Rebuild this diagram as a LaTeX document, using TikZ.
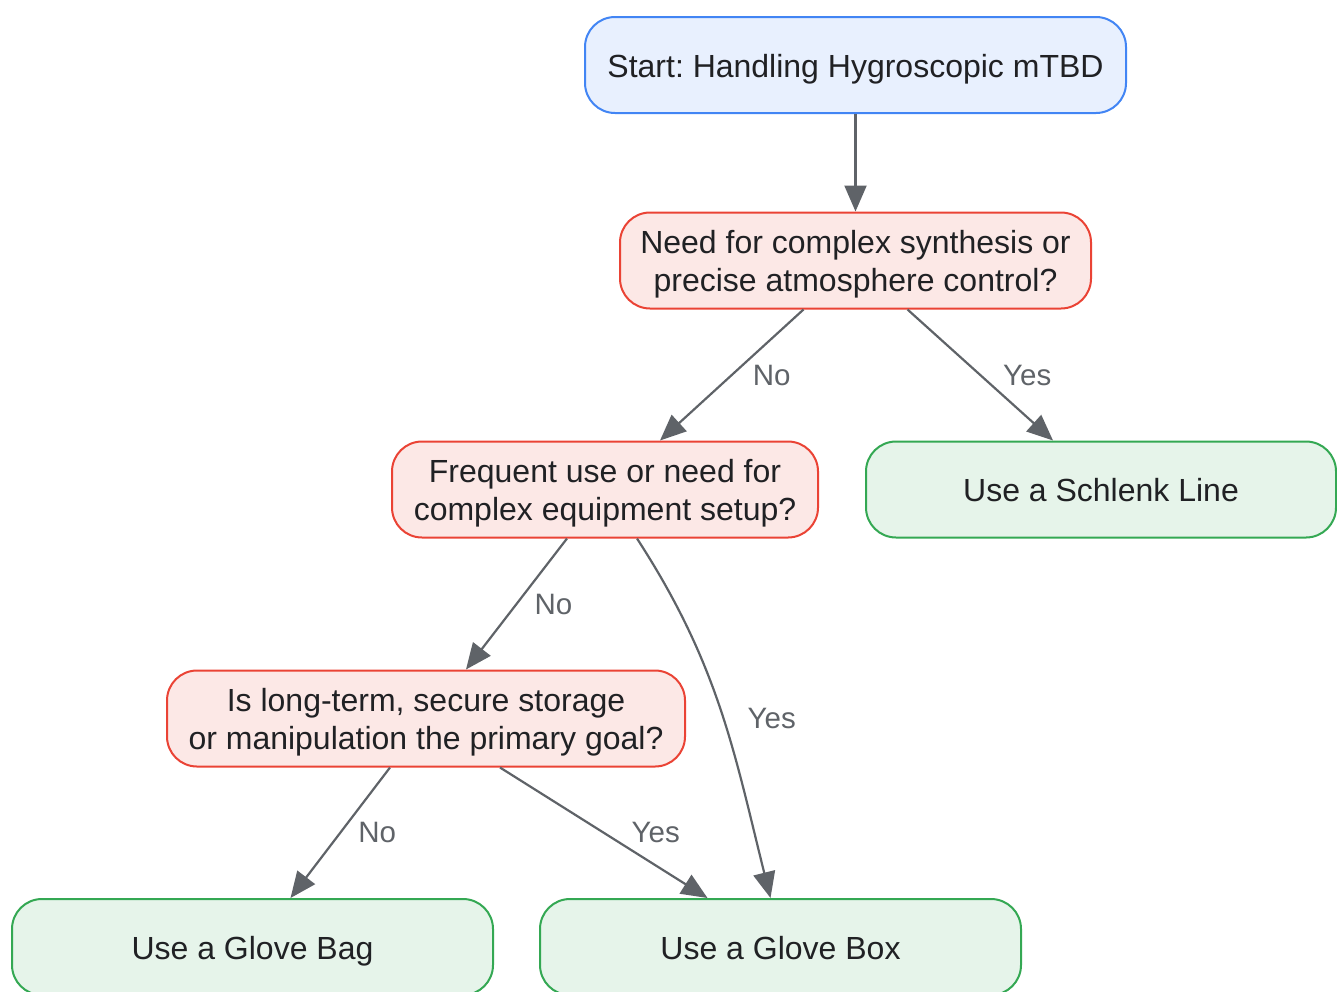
\documentclass[tikz,border=0pt]{standalone}
\usepackage{fontspec}
\setmainfont{Liberation Sans}
\frenchspacing
\usetikzlibrary{arrows.meta}

\definecolor{startfill}{HTML}{E8F0FE}
\definecolor{startline}{HTML}{4285F4}
\definecolor{askfill}{HTML}{FCE8E6}
\definecolor{askline}{HTML}{EA4335}
\definecolor{usefill}{HTML}{E6F4EA}
\definecolor{useline}{HTML}{34A853}
\definecolor{edgecol}{HTML}{5F6368}
\definecolor{textcol}{HTML}{202124}

\tikzset{
  box/.style={rounded corners=30pt, line width=2pt, align=center, inner sep=0pt,
    minimum height=96pt, text=textcol, font=\fontsize{32}{38}\selectfont},
  startbox/.style={box, draw=startline, fill=startfill, text height=27pt, text depth=3pt},
  askbox/.style={box, draw=askline, fill=askfill, text height=65pt, text depth=3pt},
  usebox/.style={box, draw=useline, fill=usefill, text height=27pt, text depth=3pt},
  link/.style={draw=edgecol, line width=2.2pt, -{Triangle[length=26pt,width=22pt]}},
  lbl/.style={text=edgecol, font=\fontsize{29.5}{34}\selectfont, inner sep=0pt}
}

\begin{document}
\begin{tikzpicture}[x=1pt,y=-1pt]
  \useasboundingbox (0,0) rectangle (1337,991);
  % Draw nodes
  \node[startbox, minimum width=541pt] (start) at (855.5,65) {Start: Handling Hygroscopic mTBD};
  \node[askbox, minimum width=471pt] (q1) at (855.5,260.5) {Need for complex synthesis or\\precise atmosphere control?};
  \node[askbox, minimum width=426pt] (q2) at (605,489.5) {Frequent use or need for\\complex equipment setup?};
  \node[usebox, minimum width=470pt] (schlenk) at (1101,489.5) {Use a Schlenk Line};
  \node[askbox, minimum width=518pt] (q3) at (426,718.5) {Is long-term, secure storage\\or manipulation the primary goal?};
  \node[usebox, minimum width=481pt] (bag) at (252.5,947) {Use a Glove Bag};
  \node[usebox, minimum width=481pt] (glovebox) at (780.5,947) {Use a Glove Box};
  % Draw connectors
  \draw[link] (start) -- (q1);
  \draw[link] ([xshift=-52pt]q1.south) -- node[lbl, midway, xshift=40pt] {No} ([xshift=55pt]q2.north);
  \draw[link] ([xshift=52pt]q1.south) -- node[lbl, midway, xshift=47pt] {Yes} ([xshift=-48pt]schlenk.north);
  \draw[link] ([xshift=-38pt]q2.south) -- node[lbl, midway, xshift=37pt] {No} ([xshift=40pt]q3.north);
  \draw[link] ([xshift=32pt]q2.south) to[out=-57, in=104] node[lbl, midway, xshift=51pt, yshift=-8pt] {Yes} ([xshift=-10pt]glovebox.north);
  \draw[link] ([xshift=-36pt]q3.south) -- node[lbl, midway, xshift=37pt] {No} ([xshift=38pt]bag.north);
  \draw[link] ([xshift=74pt]q3.south) -- node[lbl, midway, xshift=52pt] {Yes} ([xshift=-73pt]glovebox.north);
\end{tikzpicture}
\end{document}
